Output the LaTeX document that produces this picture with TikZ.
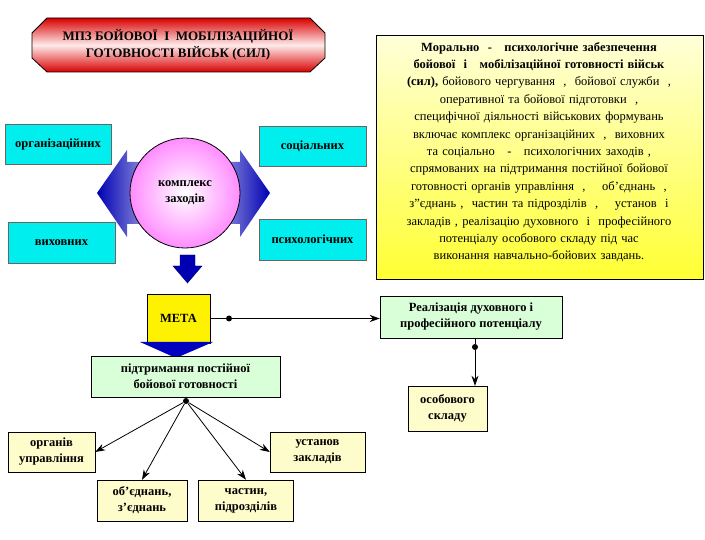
\documentclass[tikz,border=0pt]{standalone}
\usepackage{fontspec}
\setmainfont{Liberation Serif}
\usetikzlibrary{shapes.geometric,arrows.meta,shadings}
\definecolor{cyanbox}{RGB}{0,238,238}
\begin{document}
\begin{tikzpicture}[x=1pt,y=-1pt,
  lbl/.style={font=\bfseries\fontsize{12.5}{16}\selectfont},
  cy/.style={draw=black!60,fill=cyanbox,lbl,inner sep=0pt},
  gr/.style={draw=black,fill=green!15,lbl,align=center,inner sep=0pt},
  yl/.style={draw=black,fill=yellow!20,lbl,align=center,inner sep=0pt},
  con/.style={-{Stealth[length=10pt,width=7pt]},thick},
  dot/.style={circle,fill=black,inner sep=0pt,minimum size=6pt}]
\useasboundingbox (0,0) rectangle (705,540);
% title
\path[draw=black,thick,left color=red!85!black,right color=red!85!black,middle color=red!8,shading angle=0]
 (47,18)--(310,18)--(325,33)--(325,58)--(310,72)--(47,72)--(32,58)--(32,33)--cycle;
\node[font=\bfseries\fontsize{13}{17}\selectfont,align=center] (title) at (178,45) {МПЗ БОЙОВОЇ \ І \ МОБІЛІЗАЦІЙНОЇ\\ГОТОВНОСТІ ВІЙСЬК (СИЛ)};
% double arrow
\path[left color=blue!70!black,right color=blue!70!black,middle color=white]
 (97,193)--(127,150)--(127,162)--(240,162)--(240,150)--(270,193)--(240,237)--(240,224)--(127,224)--(127,237)--cycle;
\node[circle,minimum size=110pt,draw=black,thick,inner color=white,outer color=magenta!45,lbl,align=center] (c) at (185,193) {комплекс\\заходів};
\node[cy,minimum width=106pt,minimum height=40pt] (org) at (58,144) {організаційних};
\node[cy,minimum width=107pt,minimum height=40pt] (soc) at (312.5,146) {соціальних};
\node[cy,minimum width=107pt,minimum height=41pt] (vyh) at (61.5,242.5) {виховних};
\node[cy,minimum width=107pt,minimum height=41pt] (psy) at (312.5,239.5) {психологічних};
% down arrow
\path[fill=blue!70!black,draw=blue!40!black] (180,255)--(195,255)--(195,266)--(202,266)--(187.5,283)--(173,266)--(180,266)--cycle;
% text box
\node[draw=black,thick,minimum width=327pt,minimum height=244pt,top color=yellow!15,bottom color=yellow!80,anchor=north west,inner sep=0pt] (tb) at (376,35) {};
\node[font=\fontsize{12.5}{17.4}\selectfont,align=center,anchor=north,text width=325pt,inner sep=0pt] at (539,42)
{\textbf{Морально \ - \ \ психологічне забезпечення}\\
\textbf{бойової \ і \ \ мобілізаційної готовності військ}\\
\textbf{(сил),} бойового чергування \ , \ бойової служби \ ,\\
оперативної та бойової підготовки \ ,\\
специфічної діяльності військових формувань\\
включає комплекс організаційних \ , \ виховних\\
та соціально \ \ - \ \ психологічних заходів ,\\
спрямованих на підтримання постійної бойової\\
готовності органів управління \ , \ \ \ об'єднань \ ,\\
з''єднань , \ частин та підрозділів \ , \ \ \ установ \ і\\
закладів , реалізацію духовного \ і \ професійного\\
потенціалу особового складу під час\\
виконання навчально-бойових завдань.};
% lower
\node[draw=black,fill=yellow,lbl,minimum width=63pt,minimum height=49pt,inner sep=0pt] (meta) at (178.5,318.5) {МЕТА};
\node[dot] (d1) at (229,318.5) {};
\node[gr,minimum width=182pt,minimum height=42pt] (real) at (471,317) {Реалізація духовного і\\професійного потенціалу};
\node[dot] (d2) at (475,347) {};
\node[yl,minimum width=79pt,minimum height=45pt] (osob) at (447.5,408.5) {особового\\складу};
\path[fill=blue!75!black] (140,342)--(213,342)--(176,358)--cycle;
\node[gr,minimum width=189pt,minimum height=41pt] (pidt) at (185.5,376.5) {підтримання постійної\\бойової готовності};
\node[dot] (d3) at (186,401) {};
\node[yl,minimum width=87pt,minimum height=40pt] (orh) at (51.5,452) {органів\\управління};
\node[yl,minimum width=90pt,minimum height=41pt] (obj) at (142,500.5) {об'єднань,\\з'єднань};
\node[yl,minimum width=95pt,minimum height=41pt] (chas) at (246,500.5) {частин,\\підрозділів};
\node[yl,minimum width=95pt,minimum height=40pt] (ust) at (317.5,452) {установ\\закладів};
\draw (meta.east)--(d1);
\draw[con] (d1)--(real.west|-d1);
\draw (real.south-|d2)--(d2);
\draw[con] (d2)--(osob.north-|d2);
\draw (pidt.south-|d3)--(d3);
\draw[con] (d3)--(orh.east);
\draw[con] (d3)--(obj.north);
\draw[con] (d3)--(chas.north);
\draw[con] (d3)--(ust.west);
\end{tikzpicture}
\end{document}
